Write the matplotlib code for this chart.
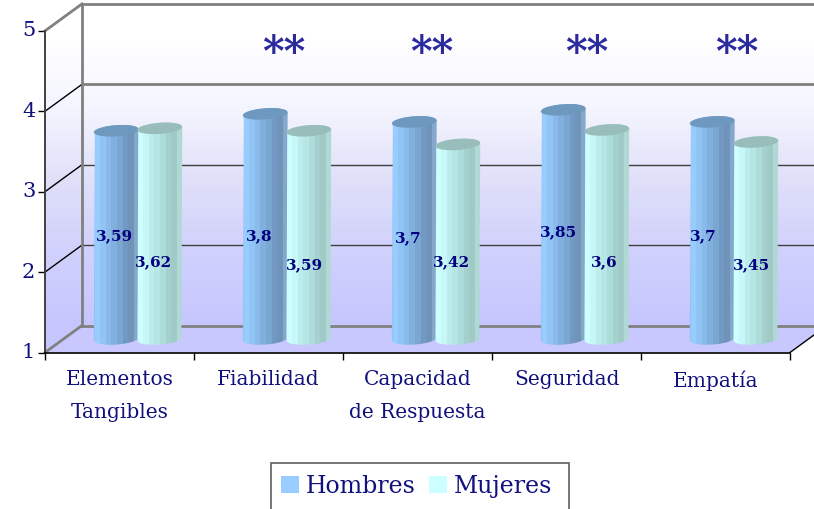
import numpy as np
import matplotlib.pyplot as plt
from matplotlib.colors import to_rgb
from matplotlib.patches import Polygon, Patch, Rectangle
from matplotlib.transforms import ScaledTranslation

categories = ["Elementos\nTangibles", "Fiabilidad", "Capacidad\nde Respuesta", "Seguridad", "Empatía"]
hombres = [3.59, 3.8, 3.7, 3.85, 3.7]
mujeres = [3.62, 3.59, 3.42, 3.6, 3.45]
hombres_labels = ["3,59", "3,8", "3,7", "3,85", "3,7"]
mujeres_labels = ["3,62", "3,59", "3,42", "3,6", "3,45"]
stars = ["", "**", "**", "**", "**"]
y_ticks = [1, 2, 3, 4, 5]

# where the data labels sit on the bars, they do not follow the values
hombres_label_y = [2.46, 2.46, 2.44, 2.51, 2.46]
mujeres_label_y = [2.13, 2.10, 2.13, 2.13, 2.10]
hombres_label_dx = [-0.015, -0.04, -0.04, -0.03, -0.06]
mujeres_label_dx = [-0.04, -0.03, -0.04, -0.02, -0.03]
stars_dx = [0.0, 0.105, 0.095, 0.135, 0.14]

NAVY = "#10107f"
BLUE_BANDS = ["#8fc4f8", "#98ccfd", "#90c4f4", "#8abae9", "#82b0de", "#7aa6d2", "#7299c4", "#6f93b9", "#84a8cc", "#6f95ba"]
CYAN_BANDS = ["#c0f2f2", "#ccffff", "#c6f8f8", "#bcecec", "#b6e6e4", "#aedcda", "#a4d0ce", "#a0cac6", "#b0d8d4", "#98c2bc"]
BLUE_TOP = "#6f98bf"
CYAN_TOP = "#98bdba"

W, H = 814, 510
X0, Y0 = 45, 353.5       # pixel of category 0, value 1
PX_X, PX_Y = 149, 80.4   # pixels per category, per value
DX, DY = 37 / PX_X, 27 / PX_Y   # chart depth in data units
BAR_W = 0.29
OFFSET = 0.146


def cylinder(ax, x, value, bands, top_color, zorder):
    t = np.linspace(0, 2 * np.pi, 90)
    cx = x + DX / 2
    base = 1 + DY / 2
    top = value + DY / 2
    a, b, s = BAR_W / 2, 0.072, 0.04
    ex = a * np.cos(t) + s * np.sin(t)
    ey = b * np.sin(t)

    # outline: lower half of the foot, then back over the upper half of the head
    seg_low = sorted(np.flatnonzero(ey <= 0), key=lambda k: ex[k])
    seg_up = sorted(np.flatnonzero(ey >= 0), key=lambda k: -ex[k])
    xs = np.r_[cx + ex[seg_low], cx + ex[seg_up]]
    ys = np.r_[base + ey[seg_low], top + ey[seg_up]]

    body = Polygon(np.c_[xs, ys], closed=True, fc="none", ec="none", zorder=zorder)
    ax.add_patch(body)
    rgb = np.array([to_rgb(c) for c in bands])[None, :, :]
    im = ax.imshow(rgb, extent=(cx - a - s, cx + a + s, base - b, top + b), aspect="auto",
                   interpolation="nearest", zorder=zorder)
    im.set_clip_path(body)
    ax.add_patch(Polygon(np.c_[cx + ex, top + ey], closed=True, fc=top_color, ec="none", zorder=zorder + 0.1))


plt.rcParams["font.family"] = "DejaVu Serif"
fig = plt.figure(figsize=(W / 100, H / 100), dpi=100)
ax = fig.add_axes([0, 0, 1, 1])
ax.patch.set_visible(False)
xlim = (-X0 / PX_X, (W - X0) / PX_X)
ylim = (1 - (H - Y0) / PX_Y, 1 + Y0 / PX_Y)

# walls: white at the top fading to lilac
walls = Polygon([(0, 1), (DX, 1 + DY), (xlim[1] + 1, 1 + DY), (xlim[1] + 1, 5 + DY), (DX, 5 + DY), (0, 5)],
                closed=True, fc="none", ec="none", zorder=1)
ax.add_patch(walls)
grad = np.array([[[1.0, 1.0, 1.0]], [[0.96, 0.96, 1.0]], [[0.88, 0.88, 0.98]], [[0.82, 0.82, 0.99]], [[0.78, 0.78, 1.0]]])
bg = ax.imshow(grad, extent=(0, xlim[1] + 1, 1, 5 + DY), aspect="auto", interpolation="bilinear", zorder=1)
bg.set_clip_path(walls)

# floor
ax.add_patch(Polygon([(0, 1), (5, 1), (5 + DX, 1 + DY), (DX, 1 + DY)],
                     closed=True, fc="#c8c8ff", ec="none", zorder=1.5))
ax.plot([5, 5 + DX], [1, 1 + DY], color="black", lw=1.0, zorder=2)

# gridlines on the back and side walls
for v in y_ticks:
    heavy = v in (1, 4, 5)
    back = "#808080" if heavy else "#404040"
    side = "#808080" if v in (1, 5) else "black"
    ax.plot([DX, xlim[1] + 1], [v + DY, v + DY], color=back, lw=2.0 if heavy else 1.0, zorder=2)
    ax.plot([0, DX], [v, v + DY], color=side, lw=2.0 if v in (1, 5) else 1.0, zorder=2)
ax.plot([DX, DX], [1 + DY, 5 + DY], color="#808080", lw=2.0, zorder=2)

for i in range(len(categories)):
    c = i + 0.5
    cylinder(ax, c - OFFSET, hombres[i], BLUE_BANDS, BLUE_TOP, 3)
    cylinder(ax, c + OFFSET, mujeres[i], CYAN_BANDS, CYAN_TOP, 4)
    label_kw = dict(ha="center", va="center", color="#00007f", fontsize=11, fontweight="bold", zorder=6)
    ax.text(c - OFFSET + DX / 2 + hombres_label_dx[i], hombres_label_y[i], hombres_labels[i], **label_kw)
    ax.text(c + OFFSET + DX / 2 + mujeres_label_dx[i], mujeres_label_y[i], mujeres_labels[i], **label_kw)
    ax.text(c + stars_dx[i], 4.73, stars[i], ha="center", va="center", color="#2a2a9c",
            fontsize=30, fontweight="bold", zorder=6)

ax.set_xlim(xlim)
ax.set_ylim(ylim)

for name in ("top", "right"):
    ax.spines[name].set_visible(False)
ax.spines["left"].set_position(("data", 0))
ax.spines["left"].set_bounds(1, 5)
ax.spines["left"].set_color("#404040")
ax.spines["left"].set_linewidth(1.4)
ax.spines["bottom"].set_position(("data", 1))
ax.spines["bottom"].set_bounds(0, 5)
ax.spines["bottom"].set_linewidth(1.2)
ax.spines["left"].set_zorder(5)
ax.spines["bottom"].set_zorder(5)

ax.set_yticks(y_ticks)
ax.tick_params(axis="y", labelsize=15, labelcolor=NAVY, length=5, width=1, pad=2)
ax.set_xticks(range(len(categories) + 1))
ax.set_xticklabels([])
ax.set_xticks([i + 0.5 for i in range(len(categories))], minor=True)
ax.set_xticklabels(categories, minor=True, linespacing=1.95, va="top")
ax.tick_params(axis="x", which="major", length=5, width=1)
ax.tick_params(axis="x", which="minor", length=0, pad=12, labelsize=14.5, labelcolor=NAVY)
up = ScaledTranslation(0, 3 / 100, fig.dpi_scale_trans)
for lab in ax.get_yticklabels():
    lab.set_transform(lab.get_transform() + up)

# legend box runs off the bottom of the picture
ax.add_patch(Rectangle((271 / W, -0.02), 298 / W, (510 - 464) / H + 0.02, transform=fig.transFigure,
                       fc="white", ec="#606060", lw=1.2, zorder=7, clip_on=False))
handles = [Patch(fc="#99ccff", ec="none", label="Hombres"), Patch(fc="#ccffff", ec="none", label="Mujeres")]
leg = ax.legend(handles=handles, ncol=2, loc="center left", bbox_to_anchor=(271 / W, (510 - 487) / H),
                bbox_transform=fig.transFigure, labelcolor=NAVY, frameon=False,
                handlelength=0.76, handleheight=0.76, handletextpad=0.3, columnspacing=0.55, borderpad=0.42,
                borderaxespad=0, prop={"family": "DejaVu Serif", "size": 17})
leg.set_zorder(8)

fig.savefig("out.png", dpi=100)
